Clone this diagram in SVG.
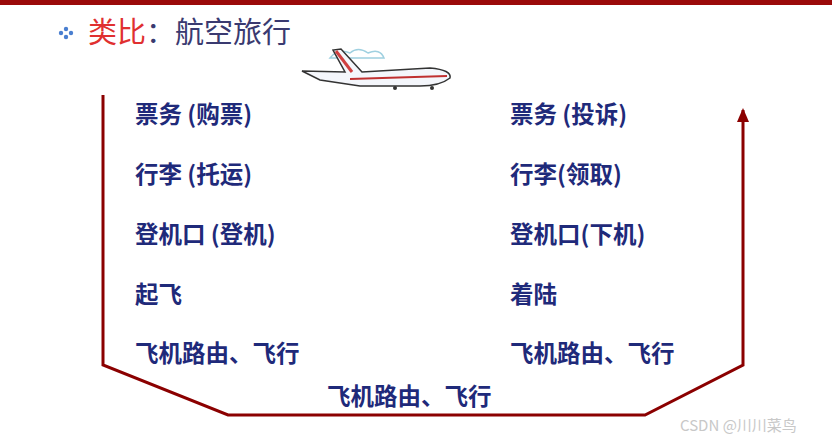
<svg xmlns="http://www.w3.org/2000/svg" width="832" height="442" viewBox="0 0 832 442">
<style>
.t{font-family:"Noto Sans CJK SC","Liberation Sans",sans-serif;font-size:23.5px;font-weight:bold;fill:#1f2a7a}
.h{font-family:"Noto Sans CJK SC",sans-serif;font-size:29px}
</style>
<defs><marker id="a" markerWidth="14" markerHeight="12" refX="12" refY="6" orient="auto" markerUnits="userSpaceOnUse"><path d="M0,0 L14,6 L0,12 Z" fill="#8b0000"/></marker></defs>
<rect width="832" height="442" fill="#fff"/>
<rect width="832" height="5" fill="#9b0a0a"/>
<g id="title">
<g fill="#4a7fd0"><circle cx="66" cy="29" r="2.2"/><circle cx="61" cy="33" r="2.2"/><circle cx="71" cy="33" r="2.2"/><circle cx="66" cy="37" r="2.2"/></g>
<text x="88" y="43" class="h" fill="#e03030">类比<tspan fill="#3a3a70">：航空旅行</tspan></text>
</g>
<g id="plane">
<path d="M330 58 q8 -10 20 -5 q8 -7 18 0 q12 -5 16 5 Z" fill="none" stroke="#9fd0e0" stroke-width="1.5"/>
<path d="M302 71 L345 72 L333 50 L341 49 L362 72 L430 68 Q452 70 450 78 Q440 86 420 86 L360 86 L320 80 Z" fill="#f4f6fb" stroke="#333" stroke-width="1.5"/>
<path d="M336 51 L352 72" stroke="#d04040" stroke-width="3"/>
<path d="M350 79 L447 76" stroke="#c03030" stroke-width="2"/>
<circle cx="395" cy="88" r="2" fill="#333"/><circle cx="432" cy="88" r="2" fill="#333"/>
</g>
<g id="connectors">
<path d="M103 95 L103 365 L228 415 L645 415 L743 365 L743 110" fill="none" stroke="#8b0000" stroke-width="3" marker-end="url(#a)"/>
</g>
<g id="left">
<text class="t" x="135" y="123">票务 (购票)</text>
<text class="t" x="135" y="183">行李 (托运)</text>
<text class="t" x="135" y="243">登机口 (登机)</text>
<text class="t" x="135" y="303">起飞</text>
<text class="t" x="135" y="362">飞机路由、飞行</text>
</g>
<g id="right">
<text class="t" x="510" y="123">票务 (投诉)</text>
<text class="t" x="510" y="183">行李(领取)</text>
<text class="t" x="510" y="243">登机口(下机)</text>
<text class="t" x="510" y="303">着陆</text>
<text class="t" x="510" y="362">飞机路由、飞行</text>
</g>
<g id="bottom"><text class="t" x="327" y="405">飞机路由、飞行</text></g>
<text x="680" y="431" font-family="Noto Sans CJK SC,sans-serif" font-size="15" fill="#c8c8c8">CSDN @川川菜鸟</text>
</svg>
